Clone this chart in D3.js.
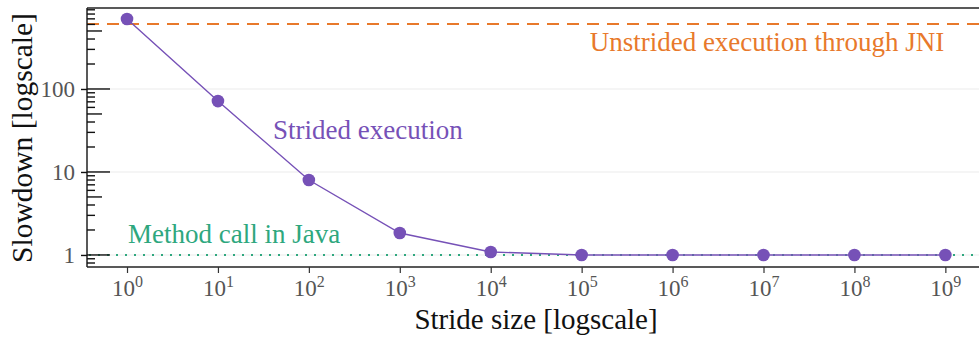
<!DOCTYPE html>
<html>
<head>
<meta charset="utf-8">
<script src="https://cdn.jsdelivr.net/npm/d3@7"></script>
<style>
  body { margin: 0; background: #fff; }
  svg { display: block; font-family: "Liberation Serif", "DejaVu Serif", serif; }
</style>
</head>
<body>
<div id="chart"></div>
<script>
// data
const strideExp = [0, 1, 2, 3, 4, 5, 6, 7, 8, 9];
const slowdown = [697, 71.5, 8.0, 1.84, 1.087, 1.0, 1.0, 1.0, 1.0, 1.0];
const jniLevel = 607;
const javaLevel = 1;
const yMajorTicks = [1, 10, 100];
const xTickExp = [0, 1, 2, 3, 4, 5, 6, 7, 8, 9];

const W = 979, H = 338;
const panel = { left: 87, right: 979, top: 8, bottom: 267 };

const purple = "#7651b7";
const orange = "#e8792b";
const green = "#2ea77e";

const svg = d3.select("#chart").append("svg")
    .attr("width", W)
    .attr("height", H);

const x = d3.scaleLinear()
    .domain([-0.44, 9.37])
    .range([panel.left, panel.right]);

const y = d3.scaleLog()
    .domain([0.716, 946])
    .range([panel.bottom, panel.top]);

// gridlines at the major ticks
svg.append("g")
    .selectAll("line")
    .data(yMajorTicks)
    .enter().append("line")
    .attr("x1", panel.left).attr("x2", panel.right)
    .attr("y1", d => y(d)).attr("y2", d => y(d))
    .attr("stroke", "#ebebeb")
    .attr("stroke-width", 1.1);

// reference lines
svg.append("line")
    .attr("x1", panel.left).attr("x2", panel.right)
    .attr("y1", y(jniLevel)).attr("y2", y(jniLevel))
    .attr("stroke", orange)
    .attr("stroke-width", 2)
    .attr("stroke-dasharray", "12,8");

svg.append("line")
    .attr("x1", panel.left + 2).attr("x2", panel.right)
    .attr("y1", y(javaLevel)).attr("y2", y(javaLevel))
    .attr("stroke", green)
    .attr("stroke-width", 2)
    .attr("stroke-dasharray", "2,7");

// strided series
const pts = strideExp.map((e, i) => ({ e: e, v: slowdown[i] }));

svg.append("path")
    .datum(pts)
    .attr("fill", "none")
    .attr("stroke", purple)
    .attr("stroke-width", 1.4)
    .attr("d", d3.line().x(d => x(d.e)).y(d => y(d.v)));

svg.append("g")
    .selectAll("circle")
    .data(pts)
    .enter().append("circle")
    .attr("cx", d => x(d.e))
    .attr("cy", d => y(d.v))
    .attr("r", 6.3)
    .attr("fill", purple);

// panel border lines (left, top, bottom)
const axisCol = "#222";
svg.append("line").attr("x1", panel.left).attr("x2", panel.left).attr("y1", panel.top).attr("y2", panel.bottom)
    .attr("stroke", axisCol).attr("stroke-width", 1.5);
svg.append("line").attr("x1", panel.left).attr("x2", panel.right).attr("y1", panel.top).attr("y2", panel.top)
    .attr("stroke", axisCol).attr("stroke-width", 1.5);
svg.append("line").attr("x1", panel.left).attr("x2", panel.right).attr("y1", panel.bottom).attr("y2", panel.bottom)
    .attr("stroke", axisCol).attr("stroke-width", 1.5);

// log ticks inside the panel (1..9 per decade)
const logTicks = [];
for (let k = -1; k <= 2; k++) {
    for (let m = 1; m <= 9; m++) {
        const v = m * Math.pow(10, k);
        if (v >= y.domain()[0] && v <= y.domain()[1]) logTicks.push({ v: v, m: m });
    }
}
svg.append("g")
    .selectAll("line")
    .data(logTicks)
    .enter().append("line")
    .attr("x1", panel.left)
    .attr("x2", d => panel.left + (d.m === 1 ? 23 : d.m === 5 ? 15 : 8))
    .attr("y1", d => y(d.v)).attr("y2", d => y(d.v))
    .attr("stroke", "#111")
    .attr("stroke-width", 1.4);

// y axis (outside ticks + labels)
const yAxis = svg.append("g")
    .attr("transform", `translate(${panel.left},0)`)
    .call(d3.axisLeft(y).tickValues(yMajorTicks).tickFormat(d3.format("d")).tickSize(6).tickPadding(6));
yAxis.select(".domain").remove();
yAxis.selectAll(".tick line").attr("stroke", "#111").attr("stroke-width", 1.4);
yAxis.selectAll(".tick text")
    .attr("fill", "#555")
    .style("font-size", "23px")
    .style("font-family", "Liberation Serif, serif");

// x axis
const xAxis = svg.append("g")
    .attr("transform", `translate(0,${panel.bottom})`)
    .call(d3.axisBottom(x).tickValues(xTickExp).tickFormat("").tickSize(6));
xAxis.select(".domain").remove();
xAxis.selectAll(".tick line").attr("stroke", "#333").attr("stroke-width", 1.2);

const xl = xAxis.selectAll(".tick").append("text")
    .attr("fill", "#555")
    .attr("y", 29)
    .attr("text-anchor", "middle")
    .style("font-size", "23px")
    .style("font-family", "Liberation Serif, serif");
xl.append("tspan").text("10");
xl.append("tspan").attr("dy", -9).style("font-size", "16px").text(d => d);

// axis titles
svg.append("text")
    .attr("x", 536).attr("y", 329)
    .attr("text-anchor", "middle")
    .attr("fill", "#111")
    .style("font-size", "29px")
    .text("Stride size [logscale]");

svg.append("text")
    .attr("transform", "translate(32,138) rotate(-90)")
    .attr("text-anchor", "middle")
    .attr("fill", "#111")
    .style("font-size", "29.5px")
    .text("Slowdown [logscale]");

// annotations
svg.append("text")
    .attr("x", 767).attr("y", 51)
    .attr("text-anchor", "middle")
    .attr("fill", orange)
    .style("font-size", "27px")
    .text("Unstrided execution through JNI");

svg.append("text")
    .attr("x", 273).attr("y", 139)
    .attr("fill", purple)
    .style("font-size", "27px")
    .text("Strided execution");

svg.append("text")
    .attr("x", 128).attr("y", 243)
    .attr("fill", green)
    .style("font-size", "27px")
    .text("Method call in Java");
</script>
</body>
</html>
